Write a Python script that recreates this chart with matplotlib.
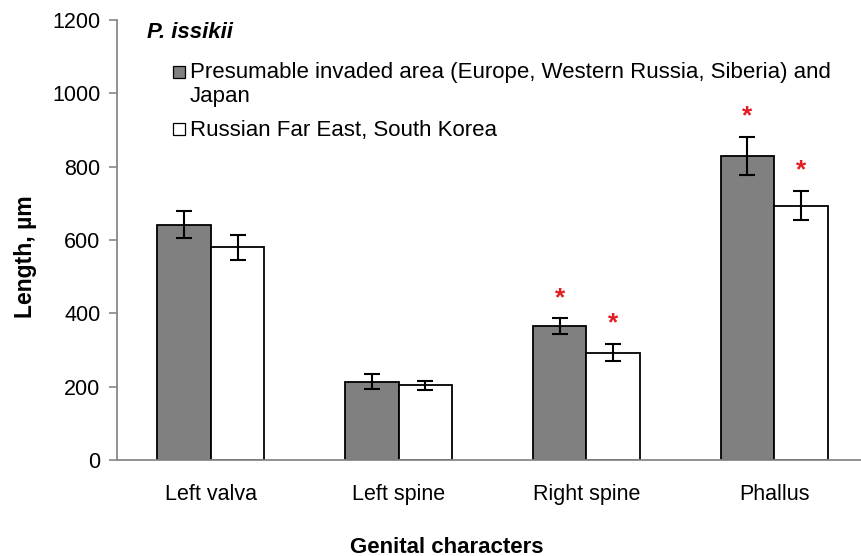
import numpy as np
import matplotlib.pyplot as plt
from matplotlib.patches import Rectangle

plt.rcParams['font.family'] = ['Liberation Sans', 'DejaVu Sans']

# Data
categories = ["Left valva", "Left spine", "Right spine", "Phallus"]
invaded_mean = [642, 214, 365, 829]
invaded_err = [36, 20, 21, 53]
native_mean = [580, 204, 293, 694]
native_err = [34, 12, 23, 40]
invaded_sig = [False, False, True, True]
native_sig = [False, False, True, True]

legend_title = "P. issikii"
legend_invaded = ["Presumable invaded area (Europe, Western Russia, Siberia) and", "Japan"]
legend_native = "Russian Far East, South Korea"

W, H = 862, 556
fig = plt.figure(figsize=(W / 100, H / 100), dpi=100)
ax = fig.add_axes([117 / W, 1 - 460 / H, 751 / W, 440 / H])

GRAY = '#808080'
STAR = '#e01e24'

x = np.arange(len(categories))
w = 0.285
ekw = dict(elinewidth=1.5, capthick=1.5, ecolor='black')
ax.bar(x - w / 2, invaded_mean, w, color=GRAY, edgecolor='black', linewidth=1.3,
       yerr=invaded_err, capsize=6, error_kw=ekw)
ax.bar(x + w / 2, native_mean, w, color='white', edgecolor='black', linewidth=1.3,
       yerr=native_err, capsize=6, error_kw=ekw)

# significance asterisks
for i in range(len(categories)):
    if invaded_sig[i]:
        ax.annotate('*', (x[i] - w / 2, invaded_mean[i] + invaded_err[i]),
                    xytext=(0, 6), textcoords='offset points', ha='center', va='bottom',
                    color=STAR, fontsize=19, fontweight='bold')
    if native_sig[i]:
        ax.annotate('*', (x[i] + w / 2, native_mean[i] + native_err[i]),
                    xytext=(0, 6), textcoords='offset points', ha='center', va='bottom',
                    color=STAR, fontsize=19, fontweight='bold')

ax.set_xlim(-0.5, 3.5)
ax.set_ylim(0, 1200)
ax.set_yticks(np.arange(0, 1201, 200))
ax.set_xticks(x)
ax.set_xticklabels(categories)
ax.tick_params(axis='x', length=0, labelsize=15.5, pad=17)
ax.tick_params(axis='y', length=6, width=1.2, color='#888888', labelsize=15.5, pad=6)
for s in ['top', 'right']:
    ax.spines[s].set_visible(False)
for s in ['left', 'bottom']:
    ax.spines[s].set_color('#888888')
    ax.spines[s].set_linewidth(1.3)

ax.set_ylabel("Length, µm", fontsize=16.5, fontweight='bold')
ax.yaxis.set_label_coords(-0.1065, 0.461)
ax.set_xlabel("Genital characters", fontsize=16, fontweight='bold')
ax.xaxis.set_label_coords(0.439, -0.174)

# legend, drawn by hand (positions in figure pixels)
def fx(px):
    return px / W

def fy(py):
    return 1 - py / H

fs = 16
fig.text(fx(147), fy(38), legend_title, fontsize=fs, fontweight='bold', style='italic',
         va='baseline')
fig.patches.append(Rectangle((fx(173), fy(78)), 12 / W, 12 / H, facecolor=GRAY,
                             edgecolor='black', linewidth=0.9, transform=fig.transFigure))
fig.text(fx(190), fy(78), legend_invaded[0], fontsize=fs, va='baseline')
fig.text(fx(190), fy(102), legend_invaded[1], fontsize=fs, va='baseline')
fig.patches.append(Rectangle((fx(173), fy(135)), 12 / W, 12 / H, facecolor='white',
                             edgecolor='black', linewidth=0.9, transform=fig.transFigure))
fig.text(fx(190), fy(136), legend_native, fontsize=fs, va='baseline')

fig.savefig('out.png', dpi=100)
